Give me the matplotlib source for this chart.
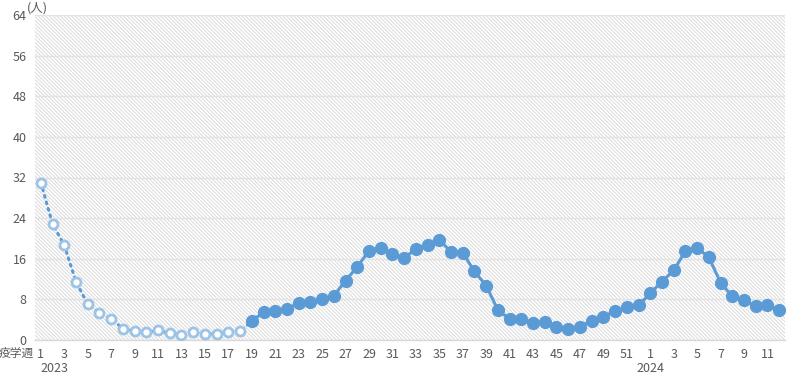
import numpy as np
import matplotlib.pyplot as plt
from matplotlib.patches import Rectangle

plt.rcParams['font.family'] = ['Noto Sans CJK JP', 'DejaVu Sans']
plt.rcParams['hatch.linewidth'] = 0.7

# weeks: 2023 w1-52, 2024 w1-12
weeks_2023 = list(range(1, 53))
weeks_2024 = list(range(1, 13))
week_labels = [str(w) for w in weeks_2023 + weeks_2024]

# 2023 w1-18 (dotted, hollow markers)
early_vals = [31.0, 22.8, 18.7, 11.4, 7.1, 5.4, 4.2, 2.2, 1.8, 1.5, 1.9, 1.3,
              1.0, 1.6, 1.2, 1.2, 1.6, 1.7]
# 2023 w19 - 2024 w12 (solid, filled markers)
main_vals = [3.7, 5.5, 5.8, 6.2, 7.2, 7.4, 8.1, 8.7, 11.7, 14.4, 17.6, 18.2,
             17.0, 16.1, 18.0, 18.8, 19.7, 17.4, 17.2, 13.5, 10.7, 5.9, 4.1, 4.1,
             3.4, 3.5, 2.6, 2.2, 2.6, 3.8, 4.6, 5.7, 6.5, 6.8,
             9.2, 11.5, 13.7, 17.5, 18.2, 16.3, 11.3, 8.6, 7.8, 6.7, 6.8, 5.9]

n = len(week_labels)
x_early = np.arange(len(early_vals))
x_main = np.arange(len(early_vals), n)

fig = plt.figure(figsize=(8, 3.85), dpi=100)
ax = fig.add_axes([35 / 800, 45 / 385, 750 / 800, 325 / 385])

# hatched plot background
ax.add_patch(Rectangle((0, 0), 1, 1, transform=ax.transAxes, facecolor='white',
                       edgecolor='#dadada', lw=0, hatch='\\' * 9, zorder=0))

blue = '#5b9bd5'
light = '#9dc3e6'
# dotted line runs on to the first solid point
ax.plot(np.append(x_early, x_main[0]), early_vals + [main_vals[0]], color=blue,
        lw=2.2, linestyle=(0, (0.6, 1.6)), dash_capstyle='round', zorder=2)
ax.plot(x_early, early_vals, linestyle='none', marker='o', ms=6.5,
        mfc='white', mec=light, mew=2, zorder=3)
ax.plot(x_main, main_vals, color=blue, lw=2.2, marker='o', ms=8.5,
        mfc=blue, mec=blue, zorder=3)

ax.set_xlim(-0.5, n - 0.5)
ax.set_ylim(0, 64)
ax.set_yticks(range(0, 65, 8))
ax.grid(axis='y', color='#e3e3e3', lw=1, zorder=1)
ax.set_axisbelow(True)

ax.set_xticks(np.arange(0, n, 2))
ax.set_xticklabels(week_labels[::2])
ax.tick_params(axis='both', length=0, colors='#595959', labelsize=9)
ax.tick_params(axis='x', pad=6)
ax.tick_params(axis='y', pad=6)

for s in ['top', 'right', 'left']:
    ax.spines[s].set_visible(False)
ax.spines['bottom'].set_color('#d9d9d9')
ax.spines['bottom'].set_linewidth(1)

# year labels
ax.text(0, -0.068, '2023', transform=ax.get_xaxis_transform(), ha='left',
        va='top', fontsize=9, color='#595959')
ax.text(52, -0.068, '2024', transform=ax.get_xaxis_transform(), ha='center',
        va='top', fontsize=9, color='#595959')
ax.text(-0.6, -0.02, '疫学週', transform=ax.get_xaxis_transform(),
        ha='right', va='top', fontsize=8.5, color='#595959')
fig.text(27 / 800, 1 - 8 / 385, '(人)', ha='left', va='center',
         fontsize=9, color='#595959')

fig.savefig('out.png', dpi=100)
